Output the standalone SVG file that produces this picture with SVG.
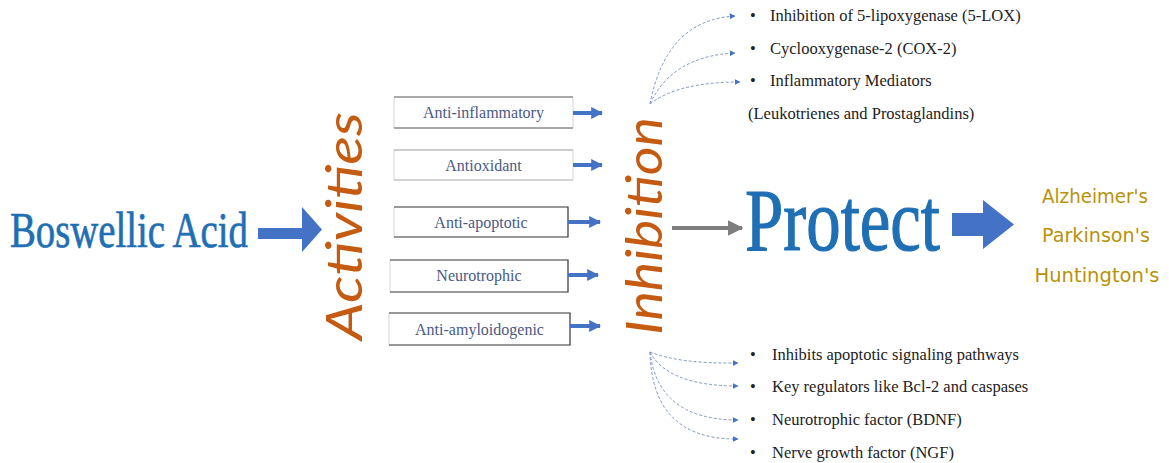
<svg xmlns="http://www.w3.org/2000/svg" width="1169" height="463" viewBox="0 0 1169 463">
<defs>
<style>
.big{font-family:"Liberation Serif","Times New Roman",serif;fill:#1F6FB5;stroke:#1F6FB5}
.rot{font-family:Lato,"Open Sans",sans-serif;font-style:italic;fill:#C55A11;font-size:50px}
.box{font-family:"Liberation Serif","Times New Roman",serif;font-size:16px;fill:#4A5A86}
.bul{font-family:"Liberation Serif","Times New Roman",serif;font-size:16.5px;fill:#222}
.dis{font-family:"DejaVu Sans",sans-serif;font-size:20px;fill:#B8920A}
.dash{fill:none;stroke:#7f97c4;stroke-width:1;stroke-dasharray:3 2}
.sarr{stroke:#4472C4;stroke-width:4;fill:none}
.barr{fill:#4472C4}
.bline{stroke:#555;stroke-width:1.2}
.fline{stroke:#d6d6d6;stroke-width:1}
</style>
<marker id="mh" viewBox="0 0 10 10" refX="9" refY="5" markerWidth="6" markerHeight="6" orient="auto" markerUnits="userSpaceOnUse">
<path d="M0,0 L10,5 L0,10 z" fill="#4472C4"/>
</marker>
<marker id="gh" viewBox="0 0 10 10" refX="9" refY="5" markerWidth="16" markerHeight="16" orient="auto" markerUnits="userSpaceOnUse">
<path d="M0,0 L10,5 L0,10 z" fill="#7F7F7F"/>
</marker>
<marker id="bh" viewBox="0 0 10 10" refX="9" refY="5" markerWidth="12" markerHeight="12" orient="auto" markerUnits="userSpaceOnUse">
<path d="M0,0 L10,5 L0,10 z" fill="#4472C4"/>
</marker>
</defs>
<rect width="1169" height="463" fill="#fff"/>

<g id="boswellic">
<text class="big" x="10" y="247" font-size="50" stroke-width="0.7" textLength="238" lengthAdjust="spacingAndGlyphs">Boswellic Acid</text>
</g>

<g id="activities">
<text class="rot" transform="translate(362,226) rotate(-90)" text-anchor="middle" textLength="228" lengthAdjust="spacingAndGlyphs">Activities</text>
</g>

<g id="box-antiinflammatory">
<line class="fline" x1="394" y1="97" x2="394" y2="128"/><line class="fline" x1="573" y1="97" x2="573" y2="128"/>
<line class="bline" x1="394" y1="97" x2="573" y2="97"/><line class="bline" x1="394" y1="128" x2="573" y2="128"/>
<text class="box" x="483.5" y="118" text-anchor="middle">Anti-inflammatory</text>
</g>
<g id="box-antioxidant">
<line class="fline" x1="394" y1="150" x2="394" y2="180"/><line class="fline" x1="573" y1="150" x2="573" y2="180"/>
<line class="fline" x1="394" y1="150" x2="573" y2="150" style="stroke:#999"/><line class="fline" x1="394" y1="180" x2="573" y2="180" style="stroke:#aaa"/>
<text class="box" x="483.5" y="171" text-anchor="middle">Antioxidant</text>
</g>
<g id="box-antiapoptotic">
<line class="fline" x1="394" y1="207" x2="394" y2="237"/>
<path d="M394,207 H568 V237 H394" fill="none" stroke="#333" stroke-width="1.2"/>
<text class="box" x="481" y="228" text-anchor="middle">Anti-apoptotic</text>
</g>
<g id="box-neurotrophic">
<line class="fline" x1="390" y1="260" x2="390" y2="292"/>
<path d="M390,260 H568 V292 H390" fill="none" stroke="#333" stroke-width="1.2"/>
<text class="box" x="479" y="281" text-anchor="middle">Neurotrophic</text>
</g>
<g id="box-antiamyloidogenic">
<line class="fline" x1="389" y1="313" x2="389" y2="345"/>
<path d="M389,313 H570 V345 H389" fill="none" stroke="#333" stroke-width="1.2"/>
<text class="box" x="479.5" y="335" text-anchor="middle">Anti-amyloidogenic</text>
</g>

<g id="inhibition">
<text class="rot" transform="translate(662,226) rotate(-90)" text-anchor="middle" textLength="218" lengthAdjust="spacingAndGlyphs">Inhibition</text>
</g>

<g id="protect">
<text class="big" x="745" y="250" font-size="88" stroke-width="1.2" textLength="195" lengthAdjust="spacingAndGlyphs">Protect</text>
</g>

<g id="diseases">
<text class="dis" x="1095" y="203" text-anchor="middle" textLength="106" lengthAdjust="spacingAndGlyphs">Alzheimer's</text>
<text class="dis" x="1096" y="242" text-anchor="middle" textLength="108" lengthAdjust="spacingAndGlyphs">Parkinson's</text>
<text class="dis" x="1097" y="282" text-anchor="middle" textLength="125" lengthAdjust="spacingAndGlyphs">Huntington's</text>
</g>

<g id="inflammation-list">
<text class="bul" x="750" y="21">•</text><text class="bul" x="770" y="21">Inhibition of 5-lipoxygenase (5-LOX)</text>
<text class="bul" x="750" y="54">•</text><text class="bul" x="770" y="54">Cyclooxygenase-2 (COX-2)</text>
<text class="bul" x="750" y="86">•</text><text class="bul" x="770" y="86">Inflammatory Mediators</text>
<text class="bul" x="748" y="119">(Leukotrienes and Prostaglandins)</text>
</g>

<g id="neuro-list">
<text class="bul" x="750" y="360">•</text><text class="bul" x="772" y="360">Inhibits apoptotic signaling pathways</text>
<text class="bul" x="750" y="392">•</text><text class="bul" x="772" y="392">Key regulators like Bcl-2 and caspases</text>
<text class="bul" x="750" y="425">•</text><text class="bul" x="772" y="425">Neurotrophic factor (BDNF)</text>
<text class="bul" x="750" y="458">•</text><text class="bul" x="772" y="458">Nerve growth factor (NGF)</text>
</g>

<g id="connectors">
<path d="M258,228 H302 V207 L322,229.5 L302,252 V239 H258 z" class="barr"/>
<path d="M952,213 H983 V200 L1014,224.5 L983,249 V236 H952 z" class="barr"/>
<line x1="672" y1="228" x2="742" y2="228" stroke="#7F7F7F" stroke-width="4" marker-end="url(#gh)"/>
<line class="sarr" x1="573" y1="113" x2="602" y2="113" marker-end="url(#bh)"/>
<line class="sarr" x1="573" y1="165" x2="602" y2="165" marker-end="url(#bh)"/>
<line class="sarr" x1="568" y1="222" x2="600" y2="222" marker-end="url(#bh)"/>
<line class="sarr" x1="568" y1="275" x2="598" y2="275" marker-end="url(#bh)"/>
<line class="sarr" x1="570" y1="326" x2="600" y2="326" marker-end="url(#bh)"/>
<path class="dash" d="M650,104 Q666,20 735,16" marker-end="url(#mh)"/>
<path class="dash" d="M650,104 Q672,56 735,53" marker-end="url(#mh)"/>
<path class="dash" d="M650,104 Q678,82 740,82" marker-end="url(#mh)"/>
<path class="dash" d="M650,352 Q680,364 738,363" marker-end="url(#mh)"/>
<path class="dash" d="M650,352 Q668,386 738,386" marker-end="url(#mh)"/>
<path class="dash" d="M650,352 Q658,420 738,420" marker-end="url(#mh)"/>
<path class="dash" d="M650,352 Q652,440 738,439" marker-end="url(#mh)"/>
</g>
</svg>
